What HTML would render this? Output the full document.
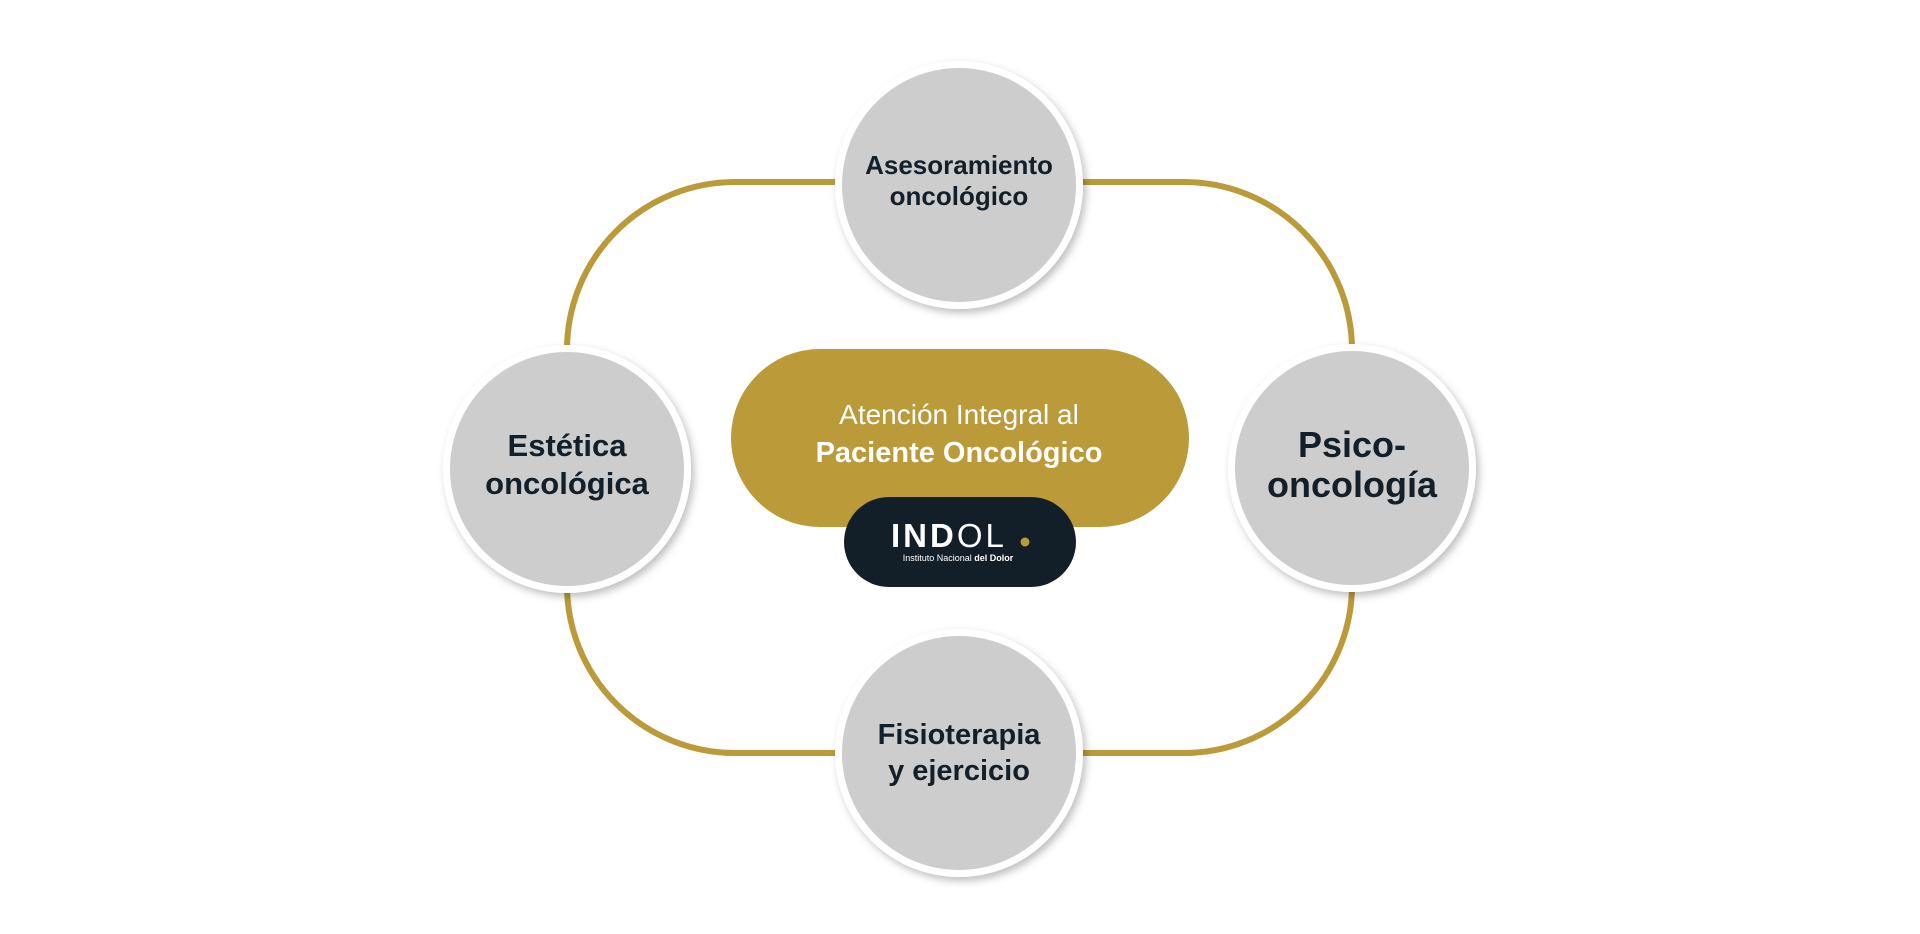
<!DOCTYPE html>
<html><head><meta charset="utf-8"><style>
html,body{margin:0;padding:0;background:#fff;}
svg{display:block}
.c{font-family:"Liberation Sans",sans-serif;font-weight:bold;fill:#13202a;text-anchor:middle}
</style></head><body>
<svg width="1920" height="934" viewBox="0 0 1920 934">
<defs>
<filter id="sh" x="-20%" y="-20%" width="140%" height="140%">
<feDropShadow dx="3" dy="4" stdDeviation="4" flood-color="#000" flood-opacity="0.25"/>
</filter>
</defs>
<rect x="567" y="182" width="785" height="571" rx="168" ry="168" fill="none" stroke="#bb9a3a" stroke-width="6"/>
<g filter="url(#sh)">
<circle cx="959" cy="185" r="124" fill="#fff"/>
<circle cx="567" cy="469" r="124" fill="#fff"/>
<circle cx="1352" cy="468" r="124" fill="#fff"/>
<circle cx="959" cy="753" r="124" fill="#fff"/>
</g>
<circle cx="959" cy="185" r="117" fill="#cdcdcd"/>
<circle cx="567" cy="469" r="117" fill="#cdcdcd"/>
<circle cx="1352" cy="468" r="117" fill="#cdcdcd"/>
<circle cx="959" cy="753" r="117" fill="#cdcdcd"/>
<text class="c" x="959" y="174" font-size="26">Asesoramiento</text>
<text class="c" x="959" y="205" font-size="26">oncológico</text>
<text class="c" x="567" y="456" font-size="31">Estética</text>
<text class="c" x="567" y="494" font-size="31">oncológica</text>
<text class="c" x="1352" y="457" font-size="36">Psico-</text>
<text class="c" x="1352" y="497" font-size="36">oncología</text>
<text class="c" x="959" y="744" font-size="29">Fisioterapia</text>
<text class="c" x="959" y="780" font-size="29">y ejercicio</text>
<rect x="731" y="349" width="458" height="178" rx="89" fill="#bb9a3a"/>
<text x="959" y="424" font-family="Liberation Sans,sans-serif" font-size="28" fill="#fff" text-anchor="middle">Atención Integral al</text>
<text x="959" y="462" font-family="Liberation Sans,sans-serif" font-size="29" font-weight="bold" fill="#fff" text-anchor="middle">Paciente Oncológico</text>
<rect x="844" y="497" width="232" height="90" rx="45" fill="#131f28"/>
<text x="891" y="547" font-family="Liberation Sans,sans-serif" font-size="33" fill="#fff" letter-spacing="3"><tspan font-weight="bold">IND</tspan>OL</text>
<circle cx="1025" cy="542" r="4.5" fill="#bb9a3a"/>
<text x="958" y="561" font-family="Liberation Sans,sans-serif" font-size="9" fill="#fff" text-anchor="middle">Instituto Nacional <tspan font-weight="bold">del Dolor</tspan></text>
</svg>
</body></html>
